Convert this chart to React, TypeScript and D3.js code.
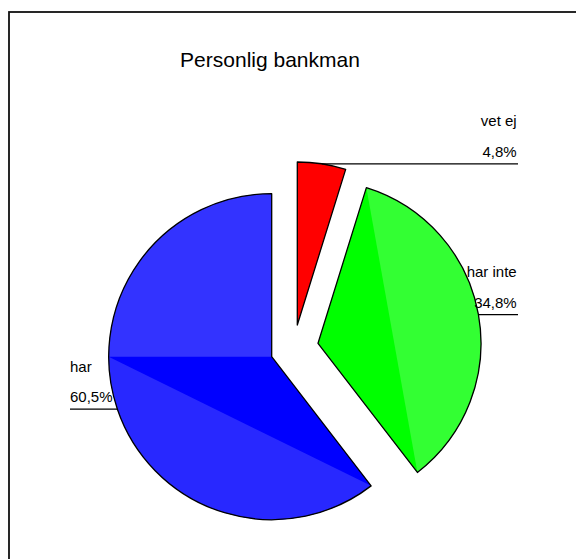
import React from "react";
import * as d3 from "d3";

const categories = ["har", "har inte", "vet ej"];
const values = [60.5, 34.8, 4.8];
const valueLabels = ["60,5%", "34,8%", "4,8%"];
const colors = ["#0000ff", "#00ff00", "#ff0000"];
const fanColors = ["#3333ff", "#33ff33", "#ff0000"];
const segColors = ["#2828ff", "#33ff33", "#ff0000"];
const title = "Personlig bankman";

// layout
const W = 576;
const H = 559;
const cx = 271.7;
const cy = 356.7;
const R = 163;
const explode = [
  { dx: 0, dy: 0 },
  { dx: 46.3, dy: -13.4 },
  { dx: 25.6, dy: -31.7 },
];
const labelSide = ["left", "right", "right"];
const leftX = 70;
const rightX = 518;

function pt(a: number, r: number) {
  return [r * Math.sin(a), -r * Math.cos(a)];
}

function segmentPath(a0: number, a1: number, r: number) {
  const p = d3.path();
  const [x0, y0] = pt(a0, r);
  p.moveTo(x0, y0);
  p.arc(0, 0, r, a0 - Math.PI / 2, a1 - Math.PI / 2, false);
  p.closePath();
  return p.toString();
}

export default function App() {
  const pie = d3
    .pie<number>()
    .sort(null)
    .startAngle(2 * Math.PI)
    .endAngle(0)
    .value((d) => d);
  const arcs = pie(values);
  const arcGen = d3.arc<d3.PieArcDatum<number>>().innerRadius(0).outerRadius(R);

  return (
    <svg
      width={W}
      height={H}
      style={{ position: "absolute", left: 0, top: 0, background: "#fff" }}
      fontFamily="'Liberation Sans', Arial, sans-serif"
    >
      <rect x={9} y={12} width={700} height={700} fill="#fff" stroke="#111" strokeWidth={1.8} />
      <text x={270} y={67} textAnchor="middle" fontSize={21} fill="#000">
        {title}
      </text>
      {arcs.map((a, i) => {
        const lo = Math.min(a.startAngle, a.endAngle);
        const hi = Math.max(a.startAngle, a.endAngle);
        const ox = cx + explode[i].dx;
        const oy = cy + explode[i].dy;
        const overlays: { d: string; c: string }[] = [];
        if (hi - lo > Math.PI) {
          const q0 = hi - Math.PI / 2;
          const fan = d3.arc()({ innerRadius: 0, outerRadius: R, startAngle: q0, endAngle: hi }) as string;
          overlays.push({ d: fan, c: fanColors[i] });
          overlays.push({ d: segmentPath(lo, q0, R), c: segColors[i] });
        } else if (i === 1) {
          overlays.push({ d: segmentPath(lo, hi, R), c: segColors[i] });
        }
        return (
          <g key={categories[i]} transform={`translate(${ox},${oy})`}>
            <path d={arcGen(a) as string} fill={colors[i]} />
            {overlays.map((o, k) => (
              <path key={k} d={o.d} fill={o.c} />
            ))}
            <path d={arcGen(a) as string} fill="none" stroke="#000" strokeWidth={1.3} strokeLinejoin="round" />
          </g>
        );
      })}
      {arcs.map((a, i) => {
        const mid = (a.startAngle + a.endAngle) / 2;
        const [mx, my] = pt(mid, R);
        const x0 = cx + explode[i].dx + mx;
        const y0 = cy + explode[i].dy + my;
        const right = labelSide[i] === "right";
        const x1 = right ? rightX : leftX;
        const tx = right ? rightX - 1.3 : leftX;
        return (
          <g key={"l" + i}>
            <line x1={x0} y1={y0} x2={x1} y2={y0} stroke="#000" strokeWidth={1.2} />
            <text x={tx} y={y0 - 37.5} fontSize={15} textAnchor={right ? "end" : "start"} fill="#000">
              {categories[i]}
            </text>
            <text x={tx} y={y0 - 7} fontSize={15} textAnchor={right ? "end" : "start"} fill="#000">
              {valueLabels[i]}
            </text>
          </g>
        );
      })}
    </svg>
  );
}
